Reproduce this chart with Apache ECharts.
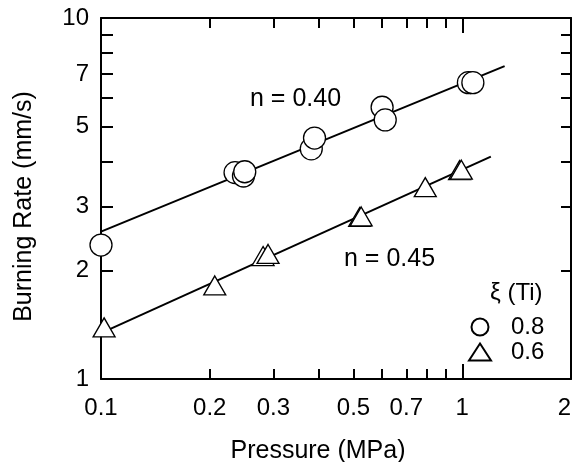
<!DOCTYPE html>
<html>
<head>
<meta charset="utf-8">
<script src="https://cdn.jsdelivr.net/npm/echarts@6/dist/echarts.min.js"></script>
<style>
html,body{margin:0;padding:0;background:#fff;}
#c{width:573px;height:462px;}
</style>
</head>
<body>
<div id="c"></div>
<script>
// Data
var circleP = [0.1, 0.235, 0.248, 0.25, 0.382, 0.39, 0.6, 0.612, 1.04, 1.07];
var circleV = [2.35, 3.73, 3.65, 3.75, 4.34, 4.65, 5.66, 5.22, 6.62, 6.62];
var triP = [0.102, 0.2065, 0.281, 0.29, 0.52, 0.525, 0.79, 0.983, 0.994];
var triV = [1.39, 1.816, 2.19, 2.22, 2.81, 2.82, 3.40, 3.79, 3.80];
var fitP1 = [0.1, 1.31];
var fitV1 = [2.56, 7.36];
var fitP2 = [0.1, 1.2];
var fitV2 = [1.34, 4.13];
var xLabels = [0.1, 0.2, 0.3, 0.5, 0.7, 1, 2];
var xTicks = [0.2, 0.3, 0.4, 0.5, 0.6, 0.7, 0.8, 0.9];
var xMajorTicks = [1];
var yLabels = [1, 2, 3, 5, 7, 10];
var yTicks = [2, 3, 4, 5, 6, 7, 8, 9];
var legendNames = ['0.8', '0.6'];

function pairs(a, b) { return a.map(function (v, i) { return [v, b[i]]; }); }

var FONT = 'Liberation Sans, Arial, Helvetica, sans-serif';
var chart = echarts.init(document.getElementById('c'), null, {renderer: 'canvas'});

function xAx(pos, ticks, len, showLine, showLabel) {
  return {
    type: 'log', logBase: 10, min: 0.1, max: 2, position: pos, gridIndex: 0,
    axisLine: {show: showLine, lineStyle: {color: '#000', width: 2}},
    axisTick: {show: true, inside: true, length: len, customValues: ticks, lineStyle: {color: '#000', width: 2}},
    axisLabel: showLabel ? {show: true, customValues: xLabels, color: '#000', fontSize: 24, fontFamily: FONT, margin: 17, hideOverlap: false,
      alignMaxLabel: 'right',
      formatter: function (v) { return String(v); }} : {show: false},
    splitLine: {show: false}, minorTick: {show: false}, minorSplitLine: {show: false}
  };
}
function yAx(pos, ticks, len, showLabel) {
  return {
    type: 'log', logBase: 10, min: 1, max: 10, position: pos, gridIndex: 0,
    axisLine: {show: true, lineStyle: {color: '#000', width: 2}},
    axisTick: {show: true, inside: true, length: len, customValues: ticks, lineStyle: {color: '#000', width: 2}},
    axisLabel: showLabel ? {show: true, customValues: yLabels, color: '#000', fontSize: 24, fontFamily: FONT, margin: 12, hideOverlap: false,
      formatter: function (v) { return String(v); }} : {show: false},
    splitLine: {show: false}
  };
}

var xa0 = xAx('bottom', xTicks, 10, true, true);
xa0.name = 'Pressure (MPa)';
xa0.nameLocation = 'middle';
xa0.nameGap = 60;
xa0.nameTextStyle = {color: '#000', fontSize: 25, fontFamily: FONT, padding: [0, 36, 0, 0]};
var ya0 = yAx('left', yTicks, 12, true);
ya0.name = 'Burning Rate (mm/s)';
ya0.nameLocation = 'middle';
ya0.nameGap = 64;
ya0.nameTextStyle = {color: '#000', fontSize: 25, fontFamily: FONT, padding: [0, 16, 0, 0]};

var option = {
  backgroundColor: '#fff',
  animation: false,
  textStyle: {fontFamily: FONT},
  grid: {left: 101, right: 2, top: 18, bottom: 83, containLabel: false, outerBoundsMode: 'none'},
  xAxis: [
    xa0,
    xAx('bottom', xMajorTicks, 15, false, false),
    xAx('top', xTicks, 10, true, false),
    xAx('top', xMajorTicks, 15, false, false)
  ],
  yAxis: [
    ya0,
    yAx('right', yTicks, 10, false)
  ],
  legend: {
    data: [{name: legendNames[0], icon: 'circle'}, {name: legendNames[1], icon: 'triangle'}],
    orient: 'vertical', left: 463, top: 310,
    itemWidth: 22, itemHeight: 17, itemGap: 1,
    textStyle: {color: '#000', fontSize: 24, fontFamily: FONT, padding: [0, 0, 0, 15]},
    selectedMode: false
  },
  graphic: [
    {type: 'text', left: 250, top: 87, style: {text: 'n = 0.40', fontSize: 25, fontFamily: FONT, fill: '#000'}},
    {type: 'text', left: 344, top: 247, style: {text: 'n = 0.45', fontSize: 25, fontFamily: FONT, fill: '#000'}},
    {type: 'text', left: 490, top: 281, style: {text: 'ξ (Ti)', fontSize: 24, fontFamily: FONT, fill: '#000'}}
  ],
  series: [
    {type: 'line', name: 'fit1', data: pairs(fitP1, fitV1), symbol: 'none', lineStyle: {color: '#000', width: 2}, silent: true, z: 1},
    {type: 'line', name: 'fit2', data: pairs(fitP2, fitV2), symbol: 'none', lineStyle: {color: '#000', width: 2}, silent: true, z: 1},
    {type: 'scatter', name: legendNames[0], data: pairs(circleP, circleV), symbol: 'circle', symbolSize: 22,
      itemStyle: {color: '#fff', borderColor: '#000', borderWidth: 1.3, opacity: 1}, z: 3},
    {type: 'scatter', name: legendNames[1], data: pairs(triP, triV), symbol: 'triangle', symbolSize: [22, 19],
      itemStyle: {color: '#fff', borderColor: '#000', borderWidth: 1.3, opacity: 1}, z: 3}
  ]
};
chart.setOption(option);
</script>
</body>
</html>
